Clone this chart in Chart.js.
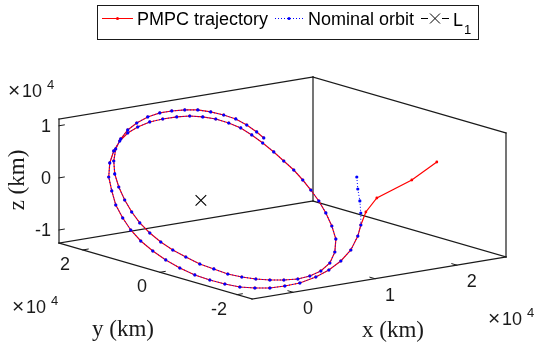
<!DOCTYPE html>
<html>
<head>
<meta charset="utf-8">
<script src="https://cdn.jsdelivr.net/npm/chart.js@4"></script>
<style>
html,body{margin:0;padding:0;background:#fff;}
#wrap{width:536px;height:345px;position:relative;}
</style>
</head>
<body>
<div id="wrap"><canvas id="c"></canvas></div>
<script>
// ---- data (km, relative to L1) ----
const approachX = [26000, 20000, 14500, 11500];
const approachY = [-5940, -12210, -14830, -18360];
const approachZ = [1880, 1330, -130, -1280];

const nominalStartX = [13230, 12380, 11600, 10740];
const nominalStartY = [-12330, -14400, -16590, -18660];
const nominalStartZ = [3690, 2060, 430, -1210];

const orbitX = [9830,8790,7270,5780,4320,2940,1450,240,-880,-1850,-2750,-3490,-4160,-4750,-5190,-5490,-5640,-5660,-5470,-5070,-4530,-3720,-2850,-1710,-540,610,1740,2850,4010,5080,6140,7060,7830,8520,9060,9450,9630,9730,9760,9720,9680,9500,9260,8940,8480,7870,7140,6080,4920,3720,2630,1620,640,-270,-1100,-1860,-2540,-3060,-3590,-3960,-4270,-4440,-4460,-4350,-4030,-3570,-2960,-2230,-1300,-260,830,1970,3090,4260,5350,6280,7200,8040,8730,9340,9820,10070,10180,10180];
const orbitY = [-20610,-22040,-23460,-24030,-24030,-23580,-22610,-21270,-19770,-17950,-15960,-13640,-11170,-8530,-5570,-2560,480,3570,6570,9500,12460,15220,17860,20020,21480,22370,22700,22460,21810,20710,19330,17910,16170,14260,12030,9750,7280,4640,1840,-840,-3520,-6240,-8840,-11600,-14400,-17250,-19850,-21840,-23010,-23220,-22690,-21720,-20180,-18470,-16610,-14580,-12380,-9870,-7350,-4510,-1790,970,3770,6610,9380,12180,15020,17620,19850,21560,22580,23190,23230,22860,22050,20920,19500,17910,16010,13940,11830,9510,7160,5330];
const orbitZ = [-2860,-4400,-6380,-7980,-9330,-10410,-11380,-11930,-12350,-12480,-12490,-12210,-11800,-11250,-10430,-9460,-8350,-7090,-5670,-4100,-2380,-490,1400,3330,5020,6440,7620,8530,9330,9860,10270,10520,10510,10350,9920,9350,8490,7490,6360,5210,4070,2780,1480,50,-1530,-3260,-5010,-6800,-8360,-9540,-10330,-10850,-11120,-11250,-11240,-11090,-10810,-10250,-9700,-8870,-8030,-7040,-5910,-4620,-3190,-1610,120,1870,3640,5310,6730,8030,9070,10000,10660,11040,11300,11420,11270,10970,10540,9810,8950,8190];

const l1Point = [0, 0, 0];

// axis limits and ticks (km)
const xLim = [-5000, 26000];
const yLim = [-23900, 26200];
const zLim = [-12500, 11300];
const xTicks = [0, 10000, 20000];
const yTicks = [-20000, 0, 20000];
const zTicks = [-10000, 0, 10000];
const xTickLabels = ['0', '1', '2'];
const yTickLabels = ['-2', '0', '2'];
const zTickLabels = ['-1', '0', '1'];

// ---- view (oblique projection of the axes box onto the canvas) ----
const VIEW = {B: [252, 299], C: [506, 257], A: [59, 243], H: 124};
function proj(x, y, z) {
  const tx = (x - xLim[0]) / (xLim[1] - xLim[0]);
  const ty = (y - yLim[0]) / (yLim[1] - yLim[0]);
  const tz = (z - zLim[0]) / (zLim[1] - zLim[0]);
  return {
    x: VIEW.B[0] + tx * (VIEW.C[0] - VIEW.B[0]) + ty * (VIEW.A[0] - VIEW.B[0]),
    y: VIEW.B[1] + tx * (VIEW.C[1] - VIEW.B[1]) + ty * (VIEW.A[1] - VIEW.B[1]) - tz * VIEW.H
  };
}
function series(xs, ys, zs) { return xs.map((v, i) => proj(xs[i], ys[i], zs[i])); }

const trajPts = series(approachX.concat(orbitX), approachY.concat(orbitY), approachZ.concat(orbitZ));
const nomPts = series(nominalStartX.concat(orbitX), nominalStartY.concat(orbitY), nominalStartZ.concat(orbitZ));
const l1Pts = [proj(l1Point[0], l1Point[1], l1Point[2])];

const SANS = '"Liberation Sans", Arial, Helvetica, sans-serif';
const SERIF = '"Liberation Serif", "Times New Roman", serif';
const AXC = '#1a1a1a';

const boxPlugin = {
  id: 'box3d',
  beforeDatasetsDraw(chart) {
    const ctx = chart.ctx;
    const sx = chart.scales.x, sy = chart.scales.y;
    const P = (x, y, z) => { const p = proj(x, y, z); return [sx.getPixelForValue(p.x), sy.getPixelForValue(p.y)]; };
    const X0 = xLim[0], X1 = xLim[1], Y0 = yLim[0], Y1 = yLim[1], Z0 = zLim[0], Z1 = zLim[1];
    const segs = [
      [[X0,Y0,Z0],[X1,Y0,Z0]], [[X0,Y0,Z0],[X0,Y1,Z0]],
      [[X0,Y1,Z0],[X1,Y1,Z0]], [[X1,Y0,Z0],[X1,Y1,Z0]],
      [[X0,Y1,Z0],[X0,Y1,Z1]], [[X1,Y1,Z0],[X1,Y1,Z1]], [[X1,Y0,Z0],[X1,Y0,Z1]],
      [[X0,Y1,Z1],[X1,Y1,Z1]], [[X1,Y1,Z1],[X1,Y0,Z1]]
    ];
    ctx.save();
    ctx.strokeStyle = AXC; ctx.lineWidth = 1.2; ctx.lineCap = 'square';
    segs.forEach(s => { const a = P(...s[0]), b = P(...s[1]); ctx.beginPath(); ctx.moveTo(a[0], a[1]); ctx.lineTo(b[0], b[1]); ctx.stroke(); });
    ctx.lineWidth = 1;
    ctx.fillStyle = AXC;
    ctx.font = '18px ' + SANS;
    xTicks.forEach((t, i) => {
      const a = P(t, Y0, Z0), b = P(t, Y0 + 1300, Z0);
      ctx.beginPath(); ctx.moveTo(a[0], a[1]); ctx.lineTo(b[0], b[1]); ctx.stroke();
      ctx.textAlign = 'center'; ctx.textBaseline = 'middle';
      ctx.fillText(xTickLabels[i], a[0] + 15, a[1] + 17);
    });
    yTicks.forEach((t, i) => {
      const a = P(X0, t, Z0), b = P(X0 + 650, t, Z0);
      ctx.beginPath(); ctx.moveTo(a[0], a[1]); ctx.lineTo(b[0], b[1]); ctx.stroke();
      ctx.textAlign = 'center'; ctx.textBaseline = 'middle';
      ctx.fillText(yTickLabels[i], a[0] - 18, a[1] + 15);
    });
    zTicks.forEach((t, i) => {
      const a = P(X0, Y1, t), b = P(X0 + 650, Y1, t);
      ctx.beginPath(); ctx.moveTo(a[0], a[1]); ctx.lineTo(b[0], b[1]); ctx.stroke();
      ctx.textAlign = 'right'; ctx.textBaseline = 'middle';
      ctx.fillText(zTickLabels[i], a[0] - 8, a[1] + 1);
    });
    const expo = (x, y) => {
      ctx.textAlign = 'left'; ctx.textBaseline = 'alphabetic';
      ctx.font = '21px ' + SANS; ctx.fillText('\u00d7', x, y);
      ctx.font = '18px ' + SANS; ctx.fillText('10', x + 14, y);
      ctx.font = '13px ' + SANS; ctx.fillText('4', x + 39, y - 8);
    };
    expo(8, 97);
    expo(12, 313);
    expo(488, 325);
    ctx.font = '23px ' + SERIF;
    ctx.textAlign = 'center'; ctx.textBaseline = 'middle';
    ctx.fillText('x (km)', 393, 331);
    ctx.fillText('y (km)', 123, 330);
    ctx.save();
    ctx.translate(18, 180); ctx.rotate(-Math.PI / 2);
    ctx.fillText('z (km)', 0, 0);
    ctx.restore();
    ctx.restore();
  },
  afterDatasetsDraw(chart) {
    const ctx = chart.ctx;
    ctx.save();
    ctx.fillStyle = '#fff';
    ctx.fillRect(97.5, 5.5, 381, 34);
    ctx.strokeStyle = AXC; ctx.lineWidth = 1;
    ctx.strokeRect(97.5, 5.5, 381, 34);
    const ly = 18.5;
    ctx.strokeStyle = '#ff0000'; ctx.beginPath(); ctx.moveTo(102, ly); ctx.lineTo(133, ly); ctx.stroke();
    ctx.fillStyle = '#ff0000'; ctx.beginPath(); ctx.arc(117.5, ly, 1.5, 0, Math.PI * 2); ctx.fill();
    ctx.strokeStyle = '#0000ff'; ctx.setLineDash([1, 2]); ctx.beginPath(); ctx.moveTo(275, ly); ctx.lineTo(303, ly); ctx.stroke();
    ctx.setLineDash([]);
    ctx.fillStyle = '#0000ff'; ctx.beginPath(); ctx.arc(289, ly, 1.5, 0, Math.PI * 2); ctx.fill();
    ctx.strokeStyle = '#000'; ctx.lineWidth = 1;
    ctx.beginPath(); ctx.moveTo(421, ly); ctx.lineTo(428, ly); ctx.moveTo(442, ly); ctx.lineTo(449, ly); ctx.stroke();
    ctx.beginPath(); ctx.moveTo(430, ly - 5); ctx.lineTo(440, ly + 5); ctx.moveTo(440, ly - 5); ctx.lineTo(430, ly + 5); ctx.stroke();
    ctx.fillStyle = '#000';
    ctx.textAlign = 'left'; ctx.textBaseline = 'alphabetic';
    ctx.font = '18px ' + SANS;
    ctx.fillText('PMPC trajectory', 137, 25);
    ctx.fillText('Nominal orbit', 308, 25);
    ctx.fillText('L', 453, 26);
    ctx.font = '13px ' + SANS;
    ctx.fillText('1', 464, 34);
    ctx.restore();
  }
};

new Chart(document.getElementById('c'), {
  type: 'scatter',
  data: {
    datasets: [
      {label: 'PMPC trajectory', data: trajPts, showLine: true, borderColor: '#ff0000', borderWidth: 1.2,
       pointRadius: 1.4, pointBackgroundColor: '#ff0000', pointBorderWidth: 0, order: 3},
      {label: 'Nominal orbit', data: nomPts, showLine: true, borderColor: '#0000ff', borderWidth: 1, borderDash: [1, 2],
       pointRadius: 1.6, pointBackgroundColor: '#0000ff', pointBorderWidth: 0, order: 2},
      {label: 'L1', data: l1Pts, showLine: false, pointStyle: 'crossRot', pointRadius: 7.5,
       pointBorderColor: '#000', pointBackgroundColor: '#000', pointBorderWidth: 1.1, order: 1}
    ]
  },
  options: {
    responsive: true, maintainAspectRatio: false, animation: false, devicePixelRatio: 1,
    events: [],
    layout: {padding: 0, autoPadding: false},
    plugins: {legend: {display: false}, tooltip: {enabled: false}, title: {display: false}},
    scales: {
      x: {type: 'linear', min: 0, max: 536, display: false},
      y: {type: 'linear', min: 0, max: 345, reverse: true, display: false}
    }
  },
  plugins: [boxPlugin]
});
</script>
</body>
</html>
